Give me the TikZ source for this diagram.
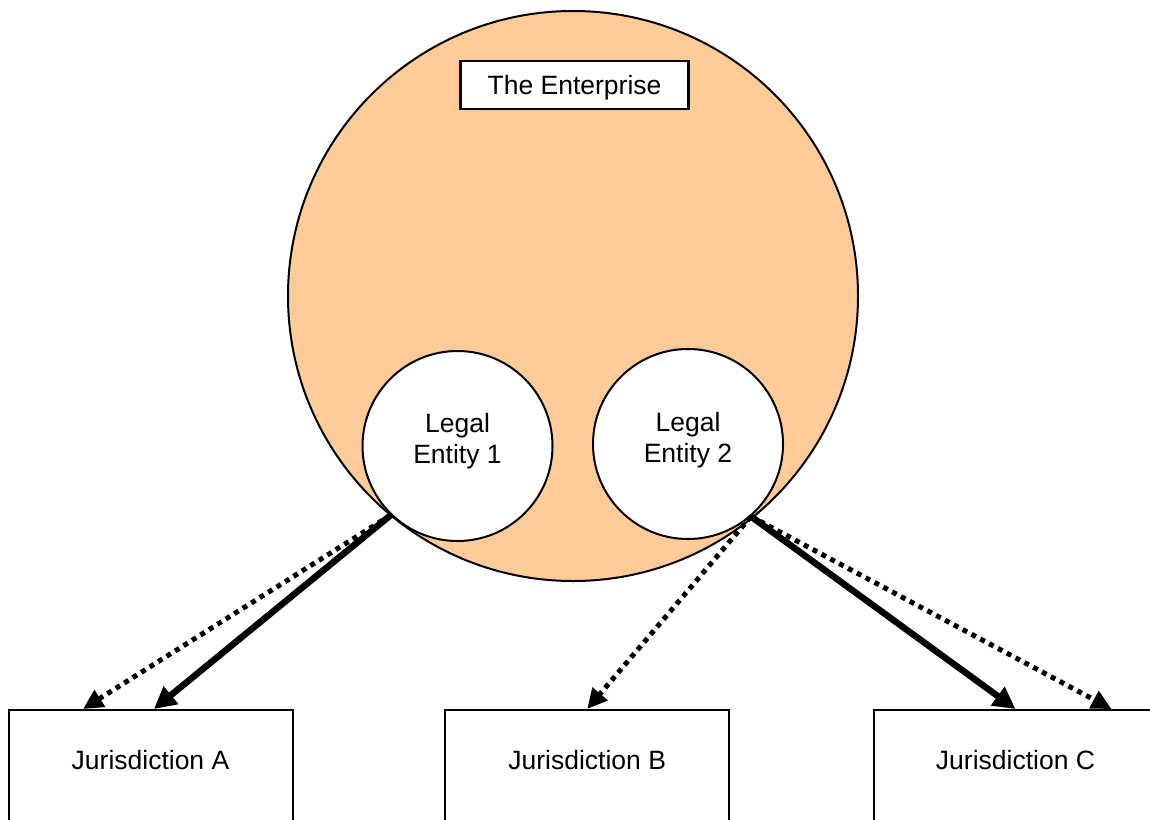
\documentclass[tikz,border=0pt]{standalone}
\usepackage{fontspec}
\setmainfont{Liberation Sans}
\usetikzlibrary{arrows.meta}
\definecolor{peach}{RGB}{255,204,153}
\begin{document}
\begin{tikzpicture}[x=1pt,y=-1pt,
  every node/.style={font=\fontsize{26.5}{31}\selectfont},
  enterprise/.style={circle, draw, line width=2pt, fill=peach, minimum size=570pt, inner sep=0pt},
  entity/.style={circle, draw, line width=2pt, fill=white, minimum size=190pt, inner sep=0pt},
  titlebox/.style={draw, line width=2.2pt, fill=white, minimum width=228pt, minimum height=48pt, inner sep=0pt, text depth=0pt},
  jbox/.style={draw, line width=2pt, fill=white, minimum width=284pt, minimum height=180pt, anchor=north, inner sep=0pt},
  plain/.style={inner sep=0pt, align=center},
  solidarrow/.style={line width=6.5pt, -{Triangle[length=22pt,width=22pt]}},
  dotarrow/.style={line width=5pt, dash pattern=on 5pt off 5pt, -{Triangle[length=20pt,width=19pt]}},
]
\useasboundingbox (0,0) rectangle (1150,819);
\clip (0,0) rectangle (1150,819);

% the enterprise and its legal entities
\node[enterprise] (ent) at (573,296) {};
\node[titlebox] (title) at (574.5,85) {The Enterprise};
\node[entity] (e1) at (457.5,446) {};
\node[entity] (e2) at (688,444) {};
\node[plain] at ([yshift=5pt]e1.center) {Legal\\Entity 1};
\node[plain] at ([yshift=4pt]e2.center) {Legal\\Entity 2};

% jurisdictions
\node[jbox] (ja) at (150.5,709) {};
\node[jbox] (jb) at (587.2,709) {};
\node[jbox] (jc) at (1015.5,709) {};
\node[plain] at ([yshift=-51pt]ja.north) {Jurisdiction A};
\node[plain] at ([yshift=-51pt]jb.north) {Jurisdiction B};
\node[plain] at ([yshift=-51pt]jc.north) {Jurisdiction C};

% links from the entities to the jurisdictions
\draw[dotarrow] (e1.226) -- ([xshift=-67.5pt]ja.north);
\draw[solidarrow] (e1.226) -- ([xshift=3.5pt]ja.north);
\draw[dotarrow] (e2.311) -- (jb.north);
\draw[solidarrow] (e2.311) -- (jc.north);
\draw[dotarrow] (e2.311) -- ([xshift=96pt]jc.north);
\end{tikzpicture}
\end{document}
